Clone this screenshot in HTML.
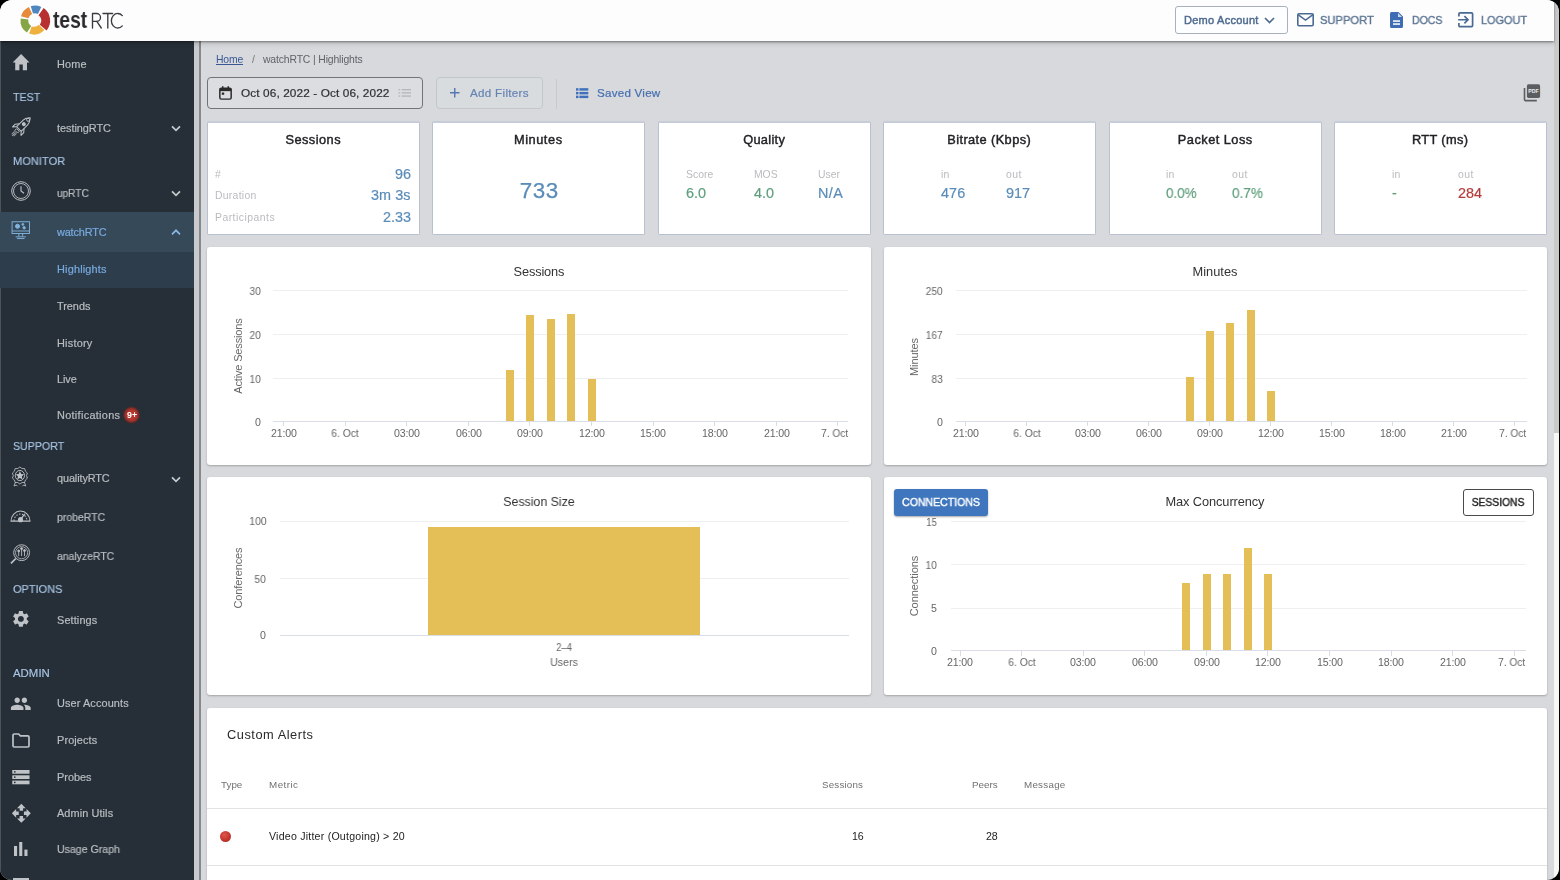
<!DOCTYPE html>
<html><head><meta charset="utf-8"><title>testRTC</title>
<style>
*{box-sizing:border-box;margin:0;padding:0}
html,body{width:1560px;height:880px;overflow:hidden;background:#000;font-family:"Liberation Sans",sans-serif}
#app{position:absolute;left:0;top:0;width:1559px;height:880px;border-radius:12px;overflow:hidden;background:#d7d9dc}
.t{position:absolute;white-space:nowrap;will-change:transform}
.abs{position:absolute}
#hdr{position:absolute;left:0;top:0;width:1554px;height:41px;background:#fdfdfe;box-shadow:0 1px 2px rgba(0,0,0,.42),0 3px 5px rgba(0,0,0,.13);z-index:5}
#side{position:absolute;left:0;top:41px;width:194px;height:839px;background:#262f37}
#sscroll{position:absolute;left:194px;top:41px;width:5px;height:839px;background:#c8cacd}
#sline{position:absolute;left:199px;top:41px;width:2px;height:839px;background:#85888c}
#vtrack{position:absolute;left:1553.5px;top:0;width:5.5px;height:880px;background:#f7f7f7}
#vthumb{position:absolute;left:1553.5px;top:3px;width:5.5px;height:430px;background:#c9c9c9}
.card{position:absolute;background:#fff;border-radius:3px;box-shadow:0 1px 2px rgba(0,0,0,.25)}
.kpi{position:absolute;background:#fff;border:1px solid #b7c1cf;border-top:2px solid #c6cdd8;border-radius:2px;top:121px;height:114px;width:213px}
svg{position:absolute;overflow:visible}
</style></head><body><div id="app">
<div id="hdr">
<svg style="left:18.8px;top:3.5px" width="32" height="32" viewBox="0 0 32 32">
<g fill="none" stroke-width="7.7">
<path d="M12.9 5.9 A10.55 10.55 0 0 1 20.6 6.5" stroke="#4f86c0"/>
<path d="M22.1 7.6 A11 11 0 0 1 24.2 23.6" stroke="#b8302f" stroke-width="8.8"/>
<path d="M22.6 23.4 A10.55 10.55 0 0 1 11.4 26" stroke="#eeb13d"/>
<path d="M10.1 25.3 A10.55 10.55 0 0 1 5.5 15" stroke="#86a544"/>
<path d="M5.7 13.3 A10.55 10.55 0 0 1 11.5 6.5" stroke="#e68a3b"/>
</g></svg>
<div class="t" style="left:53.2px;top:4.80px;line-height:30px;font-size:23.6px;color:#2a2a2e;font-weight:700;transform:scaleX(.815);transform-origin:left center;">test</div>
<svg style="left:91px;top:12px" width="33" height="18" viewBox="0 0 33 18" fill="none" stroke="#3b3b3f" stroke-width="1.35" stroke-linecap="round" stroke-linejoin="round">
<path d="M1.5 16 V1.5 H5.6 A3.9 3.9 0 0 1 5.6 9.3 H1.5 M5.8 9.3 L10.3 16"/>
<path d="M12 1.5 H21.6 M16.8 1.5 V16"/>
<path d="M31.3 3.6 A6.4 7.3 0 1 0 31.3 13.9"/>
</svg>
<div class="abs" style="left:1175px;top:5.700px;width:112.500px;height:28px;border:1px solid #aab1ba;border-radius:3px;background:#fdfeff"></div>
<div class="t" style="left:1183.7px;top:12.50px;line-height:15.4px;font-size:11px;color:#4e6b90;letter-spacing:0.259px;-webkit-text-stroke:0.45px #4e6b90;">Demo Account</div>
<svg style="left:1263.500px;top:17px" width="11" height="7" viewBox="0 0 11 7"><path d="M1 1 L5.500 5.500 L10 1" fill="none" stroke="#4e6b90" stroke-width="1.700"/></svg>
<svg style="left:1296.500px;top:13.200px" width="17" height="13.500" viewBox="0 0 17 13.500"><rect x=".8" y=".8" width="15.400" height="11.900" rx="1.200" fill="none" stroke="#4a6a94" stroke-width="1.600"/><path d="M1 1.600 L8.500 7 L16 1.600" fill="none" stroke="#4a6a94" stroke-width="1.500"/></svg>
<div class="t" style="left:1319.5px;top:12.30px;line-height:16.0px;font-size:11.4px;color:#5d7592;-webkit-text-stroke:0.4px #5d7592;transform:scaleX(0.9797);transform-origin:left center;">SUPPORT</div>
<svg style="left:1390px;top:11.500px" width="13" height="16" viewBox="0 0 13 16"><path d="M1.500 0 H8.500 L13 4.500 V14.500 A1.500 1.500 0 0 1 11.500 16 H1.500 A1.500 1.500 0 0 1 0 14.500 V1.500 A1.500 1.500 0 0 1 1.500 0 Z" fill="#3f6db3"/><path d="M8 1 V5 H12" fill="#c9d8ef"/><rect x="3" y="8.300" width="7" height="1.500" fill="#fff"/><rect x="3" y="11.300" width="7" height="1.500" fill="#fff"/></svg>
<div class="t" style="left:1411.7px;top:12.30px;line-height:16.0px;font-size:11.4px;color:#5d7592;-webkit-text-stroke:0.4px #5d7592;transform:scaleX(0.9240);transform-origin:left center;">DOCS</div>
<svg style="left:1458px;top:12px" width="15.500" height="15.500" viewBox="0 0 15.500 15.500"><path d="M.9 4.600 V2 A1.100 1.100 0 0 1 2 .9 H13.500 A1.100 1.100 0 0 1 14.600 2 V13.500 A1.100 1.100 0 0 1 13.500 14.600 H2 A1.100 1.100 0 0 1 .9 13.500 V10.900" fill="none" stroke="#4a6a94" stroke-width="1.700"/><path d="M.2 7.750 H9.600 M6.400 4.200 L10 7.750 L6.400 11.300" fill="none" stroke="#4a6a94" stroke-width="1.700"/></svg>
<div class="t" style="left:1480.5px;top:12.30px;line-height:16.0px;font-size:11.4px;color:#5d7592;-webkit-text-stroke:0.4px #5d7592;transform:scaleX(0.9548);transform-origin:left center;">LOGOUT</div>
</div>
<div id="side"></div><div id="sscroll"></div><div id="sline"></div><div class="abs" style="left:0;top:41px;width:1px;height:839px;background:#4b535b"></div>
<div class="abs" style="left:0;top:212px;width:194px;height:40px;background:#354959"></div>
<div class="abs" style="left:0;top:252px;width:194px;height:35.500px;background:#2d3d4c"></div>
<div class="t" style="left:13.4px;top:88.50px;line-height:16.0px;font-size:11.4px;color:#a9c6e6;-webkit-text-stroke:0.15px #a9c6e6;transform:scaleX(0.9348);transform-origin:left center;">TEST</div>
<div class="t" style="left:13.4px;top:152.60px;line-height:16.0px;font-size:11.4px;color:#a9c6e6;-webkit-text-stroke:0.15px #a9c6e6;transform:scaleX(0.9751);transform-origin:left center;">MONITOR</div>
<div class="t" style="left:13.4px;top:437.60px;line-height:16.0px;font-size:11.4px;color:#a9c6e6;-webkit-text-stroke:0.15px #a9c6e6;transform:scaleX(0.9319);transform-origin:left center;">SUPPORT</div>
<div class="t" style="left:13.4px;top:580.50px;line-height:16.0px;font-size:11.4px;color:#a9c6e6;-webkit-text-stroke:0.15px #a9c6e6;transform:scaleX(0.9624);transform-origin:left center;">OPTIONS</div>
<div class="t" style="left:13.4px;top:664.60px;line-height:16.0px;font-size:11.4px;color:#a9c6e6;letter-spacing:0.024px;-webkit-text-stroke:0.15px #a9c6e6;">ADMIN</div>
<div class="t" style="left:56.9px;top:57.25px;line-height:15.3px;font-size:10.9px;color:#b9bdc1;letter-spacing:0.179px;-webkit-text-stroke:0.2px #b9bdc1;">Home</div>
<div class="t" style="left:56.9px;top:121.35px;line-height:15.3px;font-size:10.9px;color:#b9bdc1;letter-spacing:-0.042px;-webkit-text-stroke:0.2px #b9bdc1;">testingRTC</div>
<div class="t" style="left:56.9px;top:185.65px;line-height:15.3px;font-size:10.9px;color:#b9bdc1;-webkit-text-stroke:0.2px #b9bdc1;transform:scaleX(0.9269);transform-origin:left center;">upRTC</div>
<div class="t" style="left:56.9px;top:224.75px;line-height:15.3px;font-size:10.9px;color:#78aade;letter-spacing:-0.163px;-webkit-text-stroke:0.2px #78aade;">watchRTC</div>
<div class="t" style="left:56.9px;top:262.25px;line-height:15.3px;font-size:10.9px;color:#78aade;letter-spacing:0.186px;-webkit-text-stroke:0.2px #78aade;">Highlights</div>
<div class="t" style="left:56.9px;top:298.65px;line-height:15.3px;font-size:10.9px;color:#b9bdc1;letter-spacing:-0.020px;-webkit-text-stroke:0.2px #b9bdc1;">Trends</div>
<div class="t" style="left:56.9px;top:335.65px;line-height:15.3px;font-size:10.9px;color:#b9bdc1;letter-spacing:0.218px;-webkit-text-stroke:0.2px #b9bdc1;">History</div>
<div class="t" style="left:56.9px;top:371.85px;line-height:15.3px;font-size:10.9px;color:#b9bdc1;letter-spacing:-0.061px;-webkit-text-stroke:0.2px #b9bdc1;">Live</div>
<div class="t" style="left:56.9px;top:408.15px;line-height:15.3px;font-size:10.9px;color:#b9bdc1;letter-spacing:0.306px;-webkit-text-stroke:0.2px #b9bdc1;">Notifications</div>
<div class="t" style="left:56.9px;top:471.35px;line-height:15.3px;font-size:10.9px;color:#b9bdc1;letter-spacing:-0.108px;-webkit-text-stroke:0.2px #b9bdc1;">qualityRTC</div>
<div class="t" style="left:56.9px;top:510.45px;line-height:15.3px;font-size:10.9px;color:#b9bdc1;-webkit-text-stroke:0.2px #b9bdc1;transform:scaleX(0.9615);transform-origin:left center;">probeRTC</div>
<div class="t" style="left:56.9px;top:549.35px;line-height:15.3px;font-size:10.9px;color:#b9bdc1;-webkit-text-stroke:0.2px #b9bdc1;transform:scaleX(0.9579);transform-origin:left center;">analyzeRTC</div>
<div class="t" style="left:56.9px;top:613.45px;line-height:15.3px;font-size:10.9px;color:#b9bdc1;letter-spacing:0.120px;-webkit-text-stroke:0.2px #b9bdc1;">Settings</div>
<div class="t" style="left:56.9px;top:696.35px;line-height:15.3px;font-size:10.9px;color:#b9bdc1;letter-spacing:0.115px;-webkit-text-stroke:0.2px #b9bdc1;">User Accounts</div>
<div class="t" style="left:56.9px;top:733.15px;line-height:15.3px;font-size:10.9px;color:#b9bdc1;letter-spacing:0.122px;-webkit-text-stroke:0.2px #b9bdc1;">Projects</div>
<div class="t" style="left:56.9px;top:769.55px;line-height:15.3px;font-size:10.9px;color:#b9bdc1;letter-spacing:-0.003px;-webkit-text-stroke:0.2px #b9bdc1;">Probes</div>
<div class="t" style="left:56.9px;top:805.95px;line-height:15.3px;font-size:10.9px;color:#b9bdc1;letter-spacing:0.102px;-webkit-text-stroke:0.2px #b9bdc1;">Admin Utils</div>
<div class="t" style="left:56.9px;top:842.25px;line-height:15.3px;font-size:10.9px;color:#b9bdc1;-webkit-text-stroke:0.2px #b9bdc1;transform:scaleX(0.9713);transform-origin:left center;">Usage Graph</div>
<svg style="left:171px;top:125.3px" width="10" height="6.600" viewBox="0 0 10 6.600"><path d="M1 1.300 L5 5.300 L9 1.300" fill="none" stroke="#c6cacd" stroke-width="1.700"/></svg>
<svg style="left:171px;top:189.6px" width="10" height="6.600" viewBox="0 0 10 6.600"><path d="M1 1.300 L5 5.300 L9 1.300" fill="none" stroke="#c6cacd" stroke-width="1.700"/></svg>
<svg style="left:171px;top:228.5px" width="10" height="6.600" viewBox="0 0 10 6.600"><path d="M1 5.300 L5 1.300 L9 5.300" fill="none" stroke="#8ab8e2" stroke-width="1.700"/></svg>
<svg style="left:171px;top:475.5px" width="10" height="6.600" viewBox="0 0 10 6.600"><path d="M1 1.300 L5 5.300 L9 1.300" fill="none" stroke="#c6cacd" stroke-width="1.700"/></svg>
<div class="abs" style="left:122.200px;top:405.500px;width:18.800px;height:18.800px;border-radius:10px;background:radial-gradient(circle closest-side,#b8372f 0%,#b3362f 50%,#93302c 72%,rgba(90,38,38,.85) 88%,rgba(60,40,45,0) 100%)"></div>
<div class="t" style="left:-68.30px;width:400px;text-align:center;top:408.75px;line-height:12.3px;font-size:8.8px;color:#fff;font-weight:700;">9+</div>
<svg style="left:10.700px;top:50.700px" width="20.200" height="23.200" viewBox="0 0 24 24" preserveAspectRatio="none"><path d="M10 20v-6h4v6h5v-8h3L12 3 2 12h3v8z" fill="#bfc2c6"/></svg>
<svg style="left:0px;top:100px" width="45" height="50" viewBox="0 100 45 50" fill="none" stroke="#bfc2c6" stroke-width="1.05" stroke-linejoin="round">
<g transform="translate(21.3 126.6) rotate(45)">
<path d="M-3.3 3.4 V-6 C-3.3 -8.8 -1.6 -10.6 0 -12.6 C1.6 -10.6 3.3 -8.8 3.3 -6 V3.4 Z"/>
<circle cx="0" cy="-9.6" r="1.5" stroke-width=".9"/>
<circle cx="0" cy="-3.6" r="2" fill="#bfc2c6" stroke="none"/>
<path d="M-3.3 -.6 L-6 2.6 V6.4 L-3.3 3.6 M3.3 -.6 L6 2.6 V6.400 L3.3 3.600"/>
<path d="M-1.900 4.800 H1.900 V7.200 H-1.900 Z" stroke-width=".9"/>
<path d="M-1.400 8.200 V12.200 M0 8.200 V13 M1.400 8.200 V12.200" stroke-width="1" opacity=".75"/>
</g></svg>
<svg style="left:10.700px;top:180.500px" width="20" height="20" viewBox="0 0 20 20" fill="none" stroke="#bfc2c6">
<circle cx="10" cy="10" r="9.300" stroke-width="1"/><circle cx="10" cy="10" r="7.500" stroke-width=".9"/>
<path d="M10 5.200 V10 L13 12.200" stroke-width="1.100"/></svg>
<svg style="left:10.700px;top:221.300px" width="19.500" height="18.500" viewBox="0 0 20 19.600" fill="none" stroke="#82b3dd" stroke-width="1">
<rect x=".8" y=".8" width="18.400" height="12.400" /><path d="M.8 10.600 H19.200 M8 13.200 V16.400 M12 13.200 V16.400 M4.600 16.800 H15.400 M6 18.600 H14" />
<circle cx="6.600" cy="5.600" r="2.200" fill="#82b3dd"/><circle cx="12.200" cy="3.600" r="1" fill="#82b3dd"/><circle cx="13.600" cy="7.200" r="1.300" fill="#82b3dd"/></svg>
<svg style="left:11px;top:465.800px" width="17.800" height="20.600" viewBox="0 0 20 21" preserveAspectRatio="none" fill="none" stroke="#bfc2c6" stroke-width="1">
<path d="M10 1 L12.400 2.600 L15.300 2.600 L16.200 5.300 L18.400 7.200 L17.400 9.800 L18.400 12.400 L16.200 14.200 L15.300 16.800 L12.400 16.800 L10 18.400 L7.600 16.800 L4.700 16.800 L3.800 14.200 L1.600 12.400 L2.600 9.800 L1.600 7.200 L3.800 5.300 L4.700 2.600 L7.600 2.600 Z" stroke-width=".9"/>
<circle cx="10" cy="9.700" r="5.200"/><path transform="translate(10 9.700) scale(1.350) translate(-10 -9.700)" d="M10 6.300 L11 8.600 L13.400 8.800 L11.600 10.400 L12.200 12.800 L10 11.500 L7.800 12.800 L8.400 10.400 L6.600 8.800 L9 8.600 Z" fill="#bfc2c6" stroke="none"/>
<path d="M5 16.500 L3.400 20.400 L6 19.400 L7.200 20.600 M15 16.500 L16.600 20.400 L14 19.400 L12.800 20.600" stroke-width=".9"/></svg>
<svg style="left:10.200px;top:507.600px" width="21" height="14.800" viewBox="0 0 21 14" preserveAspectRatio="none" fill="none" stroke="#bfc2c6" stroke-width="1">
<path d="M1 12.400 A9.500 9.500 0 0 1 20 12.400 Z"/><path d="M4 12.200 A6.500 6.500 0 0 1 17 12.200" stroke-dasharray="1.400 1.500"/>
<circle cx="10.500" cy="11" r="2" fill="#bfc2c6"/><path d="M10.500 11 L14.800 5.600" stroke-width="1.300"/></svg>
<svg style="left:10.100px;top:544.300px" width="20.300" height="20.300" viewBox="0 0 21 21" fill="none" stroke="#bfc2c6" stroke-width="1">
<circle cx="12" cy="9" r="8.200"/><circle cx="12" cy="9" r="6.300" stroke-width=".8"/>
<path d="M6 15 L1 20" stroke-width="1.800"/><path d="M9 12.500 V8 M12 12.500 V5.500 M15 12.500 V7.500" stroke-width=".9"/>
<circle cx="9" cy="7.200" r="1" fill="#bfc2c6"/><circle cx="12" cy="4.800" r="1" fill="#bfc2c6"/><circle cx="15" cy="6.800" r="1" fill="#bfc2c6"/></svg>
<svg style="left:10.600px;top:608.700px" width="19.800" height="19.800" viewBox="0 0 24 24"><path fill="#bfc2c6" d="M19.140 12.940c.040-.3.060-.610.060-.940 0-.320-.020-.640-.070-.940l2.030-1.580a.490.490 0 0 0 .120-.610l-1.920-3.320a.488.488 0 0 0-.590-.220l-2.390.960c-.5-.380-1.030-.7-1.620-.940l-.360-2.540a.484.484 0 0 0-.480-.410h-3.840c-.240 0-.430.170-.470.410l-.360 2.540c-.590.240-1.130.570-1.620.940l-2.390-.960c-.220-.080-.470 0-.590.220L2.740 8.870c-.120.210-.080.470.120.610l2.030 1.580c-.050.3-.090.630-.090.940s.020.640.070.940l-2.030 1.580a.490.490 0 0 0-.120.610l1.920 3.320c.120.220.370.290.590.220l2.390-.960c.5.380 1.030.7 1.620.940l.360 2.540c.050.240.240.410.480.410h3.840c.240 0 .440-.170.470-.410l.360-2.540c.590-.240 1.130-.560 1.620-.940l2.390.960c.220.080.470 0 .590-.220l1.920-3.320c.120-.220.070-.470-.120-.610l-2.010-1.580zM12 15.600c-1.980 0-3.600-1.620-3.600-3.600s1.620-3.600 3.600-3.600 3.600 1.620 3.600 3.600-1.620 3.600-3.600 3.600z"/></svg>
<svg style="left:10px;top:692.500px" width="21.600" height="21.600" viewBox="0 0 24 24"><path fill="#bfc2c6" d="M16 11c1.660 0 2.990-1.340 2.990-3S17.660 5 16 5c-1.660 0-3 1.340-3 3s1.340 3 3 3zm-8 0c1.660 0 2.990-1.340 2.990-3S9.660 5 8 5C6.340 5 5 6.340 5 8s1.340 3 3 3zm0 2c-2.330 0-7 1.170-7 3.500V19h14v-2.500c0-2.330-4.670-3.500-7-3.500zm8 0c-.290 0-.620.020-.970.050 1.160.84 1.970 1.970 1.970 3.450V19h6v-2.500c0-2.330-4.670-3.500-7-3.500z"/></svg>
<svg style="left:11.800px;top:733px" width="18" height="15" viewBox="0 0 18 15"><path d="M1 2.200 A1.200 1.200 0 0 1 2.200 1 H6.600 L8.400 2.800 H15.800 A1.200 1.200 0 0 1 17 4 V12.800 A1.200 1.200 0 0 1 15.800 14 H2.200 A1.200 1.200 0 0 1 1 12.800 Z" fill="none" stroke="#bfc2c6" stroke-width="1.700"/></svg>
<svg style="left:11.800px;top:769.600px" width="17.800" height="14.400" viewBox="0 0 18 15" fill="#bfc2c6"><rect x="0" y="0" width="18" height="3.900"/><rect x="0" y="5.500" width="18" height="3.900"/><rect x="0" y="11" width="18" height="3.900"/><rect x="1.800" y="1.200" width="1.600" height="1.500" fill="#262f37"/><rect x="1.800" y="6.700" width="1.600" height="1.500" fill="#262f37"/><rect x="1.800" y="12.200" width="1.600" height="1.500" fill="#262f37"/></svg>
<svg style="left:10.500px;top:802.500px" width="20.700" height="20.700" viewBox="0 0 24 24"><path fill="#bfc2c6" d="M10 9h4V6h3l-5-5-5 5h3v3zm-1 1H6V7l-5 5 5 5v-3h3v-4zm14 2l-5-5v3h-3v4h3v3l5-5zm-9 3h-4v3H7l5 5 5-5h-3v-3z"/></svg>
<svg style="left:13.800px;top:842.300px" width="13.500" height="14" viewBox="0 0 13.500 14" fill="#bfc2c6"><rect x="0" y="4" width="3.100" height="10"/><rect x="5.200" y="0" width="3.100" height="14"/><rect x="10.400" y="7.600" width="3.100" height="6.400"/></svg>
<div class="abs" style="left:12.500px;top:877.700px;width:16.500px;height:3px;background:#bfc2c6"></div>
<div class="t" style="left:215.5px;top:52.60px;line-height:14.6px;font-size:10.4px;color:#3a5795;letter-spacing:-0.173px;"><span style="text-decoration:underline">Home</span></div>
<div class="t" style="left:252px;top:52.60px;line-height:14.6px;font-size:10.4px;color:#777;">/</div>
<div class="t" style="left:263.1px;top:52.60px;line-height:14.6px;font-size:10.4px;color:#5f6368;letter-spacing:-0.136px;">watchRTC | Highlights</div>
<div class="abs" style="left:207px;top:77px;width:216px;height:32px;border:1px solid #707377;border-radius:4px;background:#dbdde0"></div>
<svg style="left:218.800px;top:85.800px" width="13" height="14" viewBox="0 0 14 15"><rect x=".9" y="2.300" width="12.200" height="11.800" rx="1.500" fill="none" stroke="#2b2b2b" stroke-width="1.600"/><rect x=".9" y="2.300" width="12.200" height="3.200" fill="#2b2b2b"/><rect x="3.200" y=".2" width="1.600" height="3" fill="#2b2b2b"/><rect x="9.200" y=".2" width="1.600" height="3" fill="#2b2b2b"/><rect x="3" y="7" width="2.600" height="2.400" fill="#2b2b2b"/></svg>
<div class="t" style="left:240.7px;top:85.05px;line-height:16.5px;font-size:11.8px;color:#2e3033;letter-spacing:0.108px;-webkit-text-stroke:0.2px #2e3033;">Oct 06, 2022 - Oct 06, 2022</div>
<svg style="left:398px;top:88.800px" width="13.600" height="8" viewBox="0 0 14 9" fill="#b3b6ba"><rect x="0" y="0" width="1.800" height="1.500"/><rect x="3.500" y="0" width="10.500" height="1.500"/><rect x="0" y="3.600" width="1.800" height="1.500"/><rect x="3.500" y="3.600" width="10.500" height="1.500"/><rect x="0" y="7.200" width="1.800" height="1.500"/><rect x="3.500" y="7.200" width="10.500" height="1.500"/></svg>
<div class="abs" style="left:436px;top:77px;width:106.500px;height:32px;border:1px solid #c3c7cc;border-radius:4px;background:#d9dcdf"></div>
<svg style="left:450px;top:88.300px" width="9.500" height="9.500" viewBox="0 0 10 10"><path d="M5 0 V10 M0 5 H10" stroke="#5578b3" stroke-width="1.500"/></svg>
<div class="t" style="left:469.9px;top:85.20px;line-height:16.2px;font-size:11.6px;color:#6583b2;letter-spacing:0.318px;-webkit-text-stroke:0.2px #6583b2;">Add Filters</div>
<div class="abs" style="left:556px;top:78.500px;width:1px;height:30.500px;background:#c6c9cd"></div>
<svg style="left:575.700px;top:87.900px" width="12.300" height="10.300" viewBox="0 0 13 10.500" fill="#3f70bb"><rect x="0" y="0" width="2.600" height="2.600"/><rect x="3.600" y="0" width="9.400" height="2.600"/><rect x="0" y="3.950" width="2.600" height="2.600"/><rect x="3.600" y="3.950" width="9.400" height="2.600"/><rect x="0" y="7.900" width="2.600" height="2.600"/><rect x="3.600" y="7.900" width="9.400" height="2.600"/></svg>
<div class="t" style="left:596.8px;top:85.20px;line-height:16.2px;font-size:11.6px;color:#456fb0;letter-spacing:0.243px;-webkit-text-stroke:0.2px #456fb0;">Saved View</div>
<svg style="left:1523px;top:84px" width="17.500" height="18" viewBox="0 0 17.500 18"><rect x="3.900" y=".3" width="13.200" height="13.600" rx="1.600" fill="#5b5d61"/><path d="M1.500 4.100 V15.400 A1.200 1.200 0 0 0 2.700 16.600 H13.800" fill="none" stroke="#5b5d61" stroke-width="1.600"/><text x="10.500" y="9" font-size="5.200" font-weight="700" fill="#eceef0" text-anchor="middle" font-family="Liberation Sans, sans-serif">PDF</text></svg>
<div class="kpi" style="left:207px"></div>
<div class="kpi" style="left:432px"></div>
<div class="kpi" style="left:658px"></div>
<div class="kpi" style="left:883px"></div>
<div class="kpi" style="left:1109px"></div>
<div class="kpi" style="left:1334px"></div>
<div class="t" style="left:113.10px;width:400px;text-align:center;top:130.55px;line-height:17.9px;font-size:12.8px;color:#202226;letter-spacing:0.466px;-webkit-text-stroke:0.42px #202226;text-indent:0.466px;">Sessions</div>
<div class="t" style="left:338.10px;width:400px;text-align:center;top:130.55px;line-height:17.9px;font-size:12.8px;color:#202226;letter-spacing:0.548px;-webkit-text-stroke:0.42px #202226;text-indent:0.548px;">Minutes</div>
<div class="t" style="left:564.10px;width:400px;text-align:center;top:130.55px;line-height:17.9px;font-size:12.8px;color:#202226;letter-spacing:0.295px;-webkit-text-stroke:0.42px #202226;text-indent:0.295px;">Quality</div>
<div class="t" style="left:789.10px;width:400px;text-align:center;top:130.55px;line-height:17.9px;font-size:12.8px;color:#202226;letter-spacing:0.405px;-webkit-text-stroke:0.42px #202226;text-indent:0.405px;">Bitrate (Kbps)</div>
<div class="t" style="left:1015.10px;width:400px;text-align:center;top:130.55px;line-height:17.9px;font-size:12.8px;color:#202226;letter-spacing:0.458px;-webkit-text-stroke:0.42px #202226;text-indent:0.458px;">Packet Loss</div>
<div class="t" style="left:1240.10px;width:400px;text-align:center;top:130.55px;line-height:17.9px;font-size:12.8px;color:#202226;letter-spacing:0.348px;-webkit-text-stroke:0.42px #202226;text-indent:0.348px;">RTT (ms)</div>
<div class="t" style="left:214.7px;top:168.00px;line-height:14.6px;font-size:10.4px;color:#b9bbbe;">#</div>
<div class="t" style="right:1148.10px;top:164.20px;line-height:20.2px;font-size:14.4px;color:#5b8cb8;letter-spacing:-0.116px;-webkit-text-stroke:0.2px #5b8cb8;margin-right:0.116px;">96</div>
<div class="t" style="left:214.7px;top:189.00px;line-height:14.6px;font-size:10.4px;color:#b9bbbe;letter-spacing:0.288px;">Duration</div>
<div class="t" style="right:1148.10px;top:185.20px;line-height:20.2px;font-size:14.4px;color:#5b8cb8;letter-spacing:0.074px;-webkit-text-stroke:0.2px #5b8cb8;margin-right:-0.074px;">3m 3s</div>
<div class="t" style="left:214.7px;top:210.60px;line-height:14.6px;font-size:10.4px;color:#b9bbbe;letter-spacing:0.482px;">Participants</div>
<div class="t" style="right:1148.10px;top:206.80px;line-height:20.2px;font-size:14.4px;color:#5b8cb8;letter-spacing:-0.005px;-webkit-text-stroke:0.2px #5b8cb8;margin-right:0.005px;">2.33</div>
<div class="t" style="left:338.70px;width:400px;text-align:center;top:174.60px;line-height:31.4px;font-size:22.4px;color:#5b8cb8;letter-spacing:0.470px;-webkit-text-stroke:0.25px #5b8cb8;text-indent:0.470px;">733</div>
<div class="t" style="left:686px;top:167.60px;line-height:14.6px;font-size:10.4px;color:#b9bbbe;letter-spacing:0.061px;">Score</div>
<div class="t" style="left:686px;top:183.40px;line-height:20.2px;font-size:14.4px;color:#5f9f7c;-webkit-text-stroke:0.2px #5f9f7c;transform:scaleX(1.0031);transform-origin:left center;">6.0</div>
<div class="t" style="left:753.8px;top:167.60px;line-height:14.6px;font-size:10.4px;color:#b9bbbe;letter-spacing:-0.036px;">MOS</div>
<div class="t" style="left:753.8px;top:183.40px;line-height:20.2px;font-size:14.4px;color:#5f9f7c;letter-spacing:-0.008px;-webkit-text-stroke:0.2px #5f9f7c;">4.0</div>
<div class="t" style="left:817.5px;top:167.60px;line-height:14.6px;font-size:10.4px;color:#b9bbbe;letter-spacing:0.049px;">User</div>
<div class="t" style="left:817.5px;top:183.40px;line-height:20.2px;font-size:14.4px;color:#5b8cb8;letter-spacing:0.400px;-webkit-text-stroke:0.2px #5b8cb8;">N/A</div>
<div class="t" style="left:940.6px;top:167.60px;line-height:14.6px;font-size:10.4px;color:#b9bbbe;letter-spacing:0.206px;">in</div>
<div class="t" style="left:940.6px;top:183.40px;line-height:20.2px;font-size:14.4px;color:#5b8cb8;letter-spacing:0.092px;-webkit-text-stroke:0.2px #5b8cb8;">476</div>
<div class="t" style="left:1006.3px;top:167.60px;line-height:14.6px;font-size:10.4px;color:#b9bbbe;letter-spacing:0.500px;">out</div>
<div class="t" style="left:1006.3px;top:183.40px;line-height:20.2px;font-size:14.4px;color:#5b8cb8;-webkit-text-stroke:0.2px #5b8cb8;transform:scaleX(1.0068);transform-origin:left center;">917</div>
<div class="t" style="left:1166.4px;top:167.60px;line-height:14.6px;font-size:10.4px;color:#b9bbbe;letter-spacing:0.206px;">in</div>
<div class="t" style="left:1166.4px;top:183.40px;line-height:20.2px;font-size:14.4px;color:#5f9f7c;-webkit-text-stroke:0.2px #5f9f7c;transform:scaleX(0.9306);transform-origin:left center;">0.0%</div>
<div class="t" style="left:1231.9px;top:167.60px;line-height:14.6px;font-size:10.4px;color:#b9bbbe;letter-spacing:0.500px;">out</div>
<div class="t" style="left:1231.9px;top:183.40px;line-height:20.2px;font-size:14.4px;color:#5f9f7c;-webkit-text-stroke:0.2px #5f9f7c;transform:scaleX(0.9430);transform-origin:left center;">0.7%</div>
<div class="t" style="left:1392px;top:167.60px;line-height:14.6px;font-size:10.4px;color:#b9bbbe;letter-spacing:0.206px;">in</div>
<div class="t" style="left:1392px;top:183.40px;line-height:20.2px;font-size:14.4px;color:#5f9f7c;-webkit-text-stroke:0.2px #5f9f7c;">-</div>
<div class="t" style="left:1457.5px;top:167.60px;line-height:14.6px;font-size:10.4px;color:#b9bbbe;letter-spacing:0.500px;">out</div>
<div class="t" style="left:1457.5px;top:183.40px;line-height:20.2px;font-size:14.4px;color:#b23b3b;letter-spacing:-0.058px;-webkit-text-stroke:0.2px #b23b3b;">284</div>
<div class="card" style="left:207px;top:247px;width:663.5px;height:217.5px"></div>
<div class="card" style="left:883.7px;top:247px;width:663.3px;height:217.5px"></div>
<div class="card" style="left:207px;top:477px;width:663.5px;height:217.5px"></div>
<div class="card" style="left:883.7px;top:477px;width:663.3px;height:217.5px"></div>
<div class="card" style="left:207px;top:707.5px;width:1340px;height:200px"></div>
<div class="t" style="left:338.50px;width:400px;text-align:center;top:263.05px;line-height:17.9px;font-size:12.8px;color:#333;letter-spacing:-0.134px;text-indent:-0.134px;">Sessions</div>
<div class="abs" style="left:272.7px;top:290.20px;width:575.8px;height:1px;background:#efefef"></div>
<div class="abs" style="left:272.7px;top:333.90px;width:575.8px;height:1px;background:#efefef"></div>
<div class="abs" style="left:272.7px;top:377.60px;width:575.8px;height:1px;background:#efefef"></div>
<div class="abs" style="left:272.7px;top:420.90px;width:575.8px;height:1px;background:#d9dde6"></div>
<div class="t" style="right:1298.00px;top:284.10px;line-height:14.8px;font-size:10.6px;color:#666;transform:scaleX(0.9584);transform-origin:right center;">30</div>
<div class="t" style="right:1298.00px;top:327.80px;line-height:14.8px;font-size:10.6px;color:#666;transform:scaleX(0.9584);transform-origin:right center;">20</div>
<div class="t" style="right:1298.00px;top:371.50px;line-height:14.8px;font-size:10.6px;color:#666;transform:scaleX(0.9584);transform-origin:right center;">10</div>
<div class="t" style="right:1298.00px;top:414.80px;line-height:14.8px;font-size:10.6px;color:#666;">0</div>
<div class="t" style="left:37.70px;width:400px;text-align:center;top:349.00px;line-height:14px;font-size:11px;color:#666;letter-spacing:-0.154px;transform:rotate(-90deg);text-indent:-0.154px;">Active Sessions</div>
<div class="abs" style="left:282.90px;top:421.40px;width:1px;height:5.0px;background:#d9dde6"></div>
<div class="t" style="left:83.70px;width:400px;text-align:center;top:425.70px;line-height:14.8px;font-size:10.6px;color:#666;letter-spacing:-0.129px;text-indent:-0.129px;">21:00</div>
<div class="abs" style="left:344.50px;top:421.40px;width:1px;height:5.0px;background:#d9dde6"></div>
<div class="t" style="left:145.30px;width:400px;text-align:center;top:425.70px;line-height:14.8px;font-size:10.6px;color:#666;transform:scaleX(0.9626);transform-origin:center center;">6. Oct</div>
<div class="abs" style="left:406.10px;top:421.40px;width:1px;height:5.0px;background:#d9dde6"></div>
<div class="t" style="left:206.90px;width:400px;text-align:center;top:425.70px;line-height:14.8px;font-size:10.6px;color:#666;letter-spacing:-0.129px;text-indent:-0.129px;">03:00</div>
<div class="abs" style="left:467.70px;top:421.40px;width:1px;height:5.0px;background:#d9dde6"></div>
<div class="t" style="left:268.50px;width:400px;text-align:center;top:425.70px;line-height:14.8px;font-size:10.6px;color:#666;letter-spacing:-0.129px;text-indent:-0.129px;">06:00</div>
<div class="abs" style="left:529.30px;top:421.40px;width:1px;height:5.0px;background:#d9dde6"></div>
<div class="t" style="left:330.10px;width:400px;text-align:center;top:425.70px;line-height:14.8px;font-size:10.6px;color:#666;letter-spacing:-0.129px;text-indent:-0.129px;">09:00</div>
<div class="abs" style="left:590.90px;top:421.40px;width:1px;height:5.0px;background:#d9dde6"></div>
<div class="t" style="left:391.70px;width:400px;text-align:center;top:425.70px;line-height:14.8px;font-size:10.6px;color:#666;letter-spacing:-0.129px;text-indent:-0.129px;">12:00</div>
<div class="abs" style="left:652.50px;top:421.40px;width:1px;height:5.0px;background:#d9dde6"></div>
<div class="t" style="left:453.30px;width:400px;text-align:center;top:425.70px;line-height:14.8px;font-size:10.6px;color:#666;letter-spacing:-0.129px;text-indent:-0.129px;">15:00</div>
<div class="abs" style="left:714.10px;top:421.40px;width:1px;height:5.0px;background:#d9dde6"></div>
<div class="t" style="left:514.90px;width:400px;text-align:center;top:425.70px;line-height:14.8px;font-size:10.6px;color:#666;letter-spacing:-0.129px;text-indent:-0.129px;">18:00</div>
<div class="abs" style="left:775.70px;top:421.40px;width:1px;height:5.0px;background:#d9dde6"></div>
<div class="t" style="left:576.50px;width:400px;text-align:center;top:425.70px;line-height:14.8px;font-size:10.6px;color:#666;letter-spacing:-0.129px;text-indent:-0.129px;">21:00</div>
<div class="abs" style="left:837.30px;top:421.40px;width:1px;height:5.0px;background:#d9dde6"></div>
<div class="t" style="right:711.20px;top:425.70px;line-height:14.8px;font-size:10.6px;color:#666;transform:scaleX(0.9626);transform-origin:right center;">7. Oct</div>
<div class="abs" style="left:505.77px;top:369.80px;width:8px;height:51.30px;background:#e4bf58"></div>
<div class="abs" style="left:526.30px;top:314.60px;width:8px;height:106.50px;background:#e4bf58"></div>
<div class="abs" style="left:546.83px;top:318.60px;width:8px;height:102.50px;background:#e4bf58"></div>
<div class="abs" style="left:567.37px;top:314.10px;width:8px;height:107.00px;background:#e4bf58"></div>
<div class="abs" style="left:587.90px;top:378.90px;width:8px;height:42.20px;background:#e4bf58"></div>
<div class="t" style="left:1015.00px;width:400px;text-align:center;top:263.05px;line-height:17.9px;font-size:12.8px;color:#333;letter-spacing:0.031px;text-indent:0.031px;">Minutes</div>
<div class="abs" style="left:956px;top:290.20px;width:570.8px;height:1px;background:#efefef"></div>
<div class="abs" style="left:956px;top:333.90px;width:570.8px;height:1px;background:#efefef"></div>
<div class="abs" style="left:956px;top:377.60px;width:570.8px;height:1px;background:#efefef"></div>
<div class="abs" style="left:956px;top:420.90px;width:570.8px;height:1px;background:#d9dde6"></div>
<div class="t" style="right:616.30px;top:284.10px;line-height:14.8px;font-size:10.6px;color:#666;transform:scaleX(0.9616);transform-origin:right center;">250</div>
<div class="t" style="right:616.30px;top:327.80px;line-height:14.8px;font-size:10.6px;color:#666;transform:scaleX(0.9616);transform-origin:right center;">167</div>
<div class="t" style="right:616.30px;top:371.50px;line-height:14.8px;font-size:10.6px;color:#666;transform:scaleX(0.9584);transform-origin:right center;">83</div>
<div class="t" style="right:616.30px;top:414.80px;line-height:14.8px;font-size:10.6px;color:#666;">0</div>
<div class="t" style="left:714.00px;width:400px;text-align:center;top:349.50px;line-height:14px;font-size:11px;color:#666;letter-spacing:-0.055px;transform:rotate(-90deg);text-indent:-0.055px;">Minutes</div>
<div class="abs" style="left:965.40px;top:421.40px;width:1px;height:5.0px;background:#d9dde6"></div>
<div class="t" style="left:766.20px;width:400px;text-align:center;top:425.70px;line-height:14.8px;font-size:10.6px;color:#666;letter-spacing:-0.129px;text-indent:-0.129px;">21:00</div>
<div class="abs" style="left:1026.33px;top:421.40px;width:1px;height:5.0px;background:#d9dde6"></div>
<div class="t" style="left:827.13px;width:400px;text-align:center;top:425.70px;line-height:14.8px;font-size:10.6px;color:#666;transform:scaleX(0.9626);transform-origin:center center;">6. Oct</div>
<div class="abs" style="left:1087.26px;top:421.40px;width:1px;height:5.0px;background:#d9dde6"></div>
<div class="t" style="left:888.06px;width:400px;text-align:center;top:425.70px;line-height:14.8px;font-size:10.6px;color:#666;letter-spacing:-0.129px;text-indent:-0.129px;">03:00</div>
<div class="abs" style="left:1148.19px;top:421.40px;width:1px;height:5.0px;background:#d9dde6"></div>
<div class="t" style="left:948.99px;width:400px;text-align:center;top:425.70px;line-height:14.8px;font-size:10.6px;color:#666;letter-spacing:-0.129px;text-indent:-0.129px;">06:00</div>
<div class="abs" style="left:1209.12px;top:421.40px;width:1px;height:5.0px;background:#d9dde6"></div>
<div class="t" style="left:1009.92px;width:400px;text-align:center;top:425.70px;line-height:14.8px;font-size:10.6px;color:#666;letter-spacing:-0.129px;text-indent:-0.129px;">09:00</div>
<div class="abs" style="left:1270.05px;top:421.40px;width:1px;height:5.0px;background:#d9dde6"></div>
<div class="t" style="left:1070.85px;width:400px;text-align:center;top:425.70px;line-height:14.8px;font-size:10.6px;color:#666;letter-spacing:-0.129px;text-indent:-0.129px;">12:00</div>
<div class="abs" style="left:1330.98px;top:421.40px;width:1px;height:5.0px;background:#d9dde6"></div>
<div class="t" style="left:1131.78px;width:400px;text-align:center;top:425.70px;line-height:14.8px;font-size:10.6px;color:#666;letter-spacing:-0.129px;text-indent:-0.129px;">15:00</div>
<div class="abs" style="left:1391.91px;top:421.40px;width:1px;height:5.0px;background:#d9dde6"></div>
<div class="t" style="left:1192.71px;width:400px;text-align:center;top:425.70px;line-height:14.8px;font-size:10.6px;color:#666;letter-spacing:-0.129px;text-indent:-0.129px;">18:00</div>
<div class="abs" style="left:1452.84px;top:421.40px;width:1px;height:5.0px;background:#d9dde6"></div>
<div class="t" style="left:1253.64px;width:400px;text-align:center;top:425.70px;line-height:14.8px;font-size:10.6px;color:#666;letter-spacing:-0.129px;text-indent:-0.129px;">21:00</div>
<div class="abs" style="left:1513.77px;top:421.40px;width:1px;height:5.0px;background:#d9dde6"></div>
<div class="t" style="right:32.90px;top:425.70px;line-height:14.8px;font-size:10.6px;color:#666;transform:scaleX(0.9626);transform-origin:right center;">7. Oct</div>
<div class="abs" style="left:1185.81px;top:376.60px;width:8px;height:44.50px;background:#e4bf58"></div>
<div class="abs" style="left:1206.12px;top:330.90px;width:8px;height:90.20px;background:#e4bf58"></div>
<div class="abs" style="left:1226.43px;top:322.50px;width:8px;height:98.60px;background:#e4bf58"></div>
<div class="abs" style="left:1246.74px;top:310.00px;width:8px;height:111.10px;background:#e4bf58"></div>
<div class="abs" style="left:1267.05px;top:390.70px;width:8px;height:30.40px;background:#e4bf58"></div>
<div class="t" style="left:1015.00px;width:400px;text-align:center;top:493.05px;line-height:17.9px;font-size:12.8px;color:#333;letter-spacing:-0.092px;text-indent:-0.092px;">Max Concurrency</div>
<div class="abs" style="left:950.5px;top:520.90px;width:575.2px;height:1px;background:#efefef"></div>
<div class="abs" style="left:950.5px;top:564.00px;width:575.2px;height:1px;background:#efefef"></div>
<div class="abs" style="left:950.5px;top:607.70px;width:575.2px;height:1px;background:#efefef"></div>
<div class="abs" style="left:950.5px;top:650.10px;width:575.2px;height:1px;background:#d9dde6"></div>
<div class="t" style="right:622.20px;top:514.50px;line-height:14.8px;font-size:10.6px;color:#666;transform:scaleX(0.8969);transform-origin:right center;">15</div>
<div class="t" style="right:622.20px;top:557.60px;line-height:14.8px;font-size:10.6px;color:#666;transform:scaleX(0.9584);transform-origin:right center;">10</div>
<div class="t" style="right:622.20px;top:601.30px;line-height:14.8px;font-size:10.6px;color:#666;">5</div>
<div class="t" style="right:622.20px;top:643.70px;line-height:14.8px;font-size:10.6px;color:#666;">0</div>
<div class="t" style="left:714.00px;width:400px;text-align:center;top:578.80px;line-height:14px;font-size:11px;color:#666;letter-spacing:-0.046px;transform:rotate(-90deg);text-indent:-0.046px;">Connections</div>
<div class="abs" style="left:959.50px;top:650.60px;width:1px;height:5.0px;background:#d9dde6"></div>
<div class="t" style="left:760.30px;width:400px;text-align:center;top:654.90px;line-height:14.8px;font-size:10.6px;color:#666;letter-spacing:-0.129px;text-indent:-0.129px;">21:00</div>
<div class="abs" style="left:1021.09px;top:650.60px;width:1px;height:5.0px;background:#d9dde6"></div>
<div class="t" style="left:821.89px;width:400px;text-align:center;top:654.90px;line-height:14.8px;font-size:10.6px;color:#666;transform:scaleX(0.9626);transform-origin:center center;">6. Oct</div>
<div class="abs" style="left:1082.68px;top:650.60px;width:1px;height:5.0px;background:#d9dde6"></div>
<div class="t" style="left:883.48px;width:400px;text-align:center;top:654.90px;line-height:14.8px;font-size:10.6px;color:#666;letter-spacing:-0.129px;text-indent:-0.129px;">03:00</div>
<div class="abs" style="left:1144.27px;top:650.60px;width:1px;height:5.0px;background:#d9dde6"></div>
<div class="t" style="left:945.07px;width:400px;text-align:center;top:654.90px;line-height:14.8px;font-size:10.6px;color:#666;letter-spacing:-0.129px;text-indent:-0.129px;">06:00</div>
<div class="abs" style="left:1205.86px;top:650.60px;width:1px;height:5.0px;background:#d9dde6"></div>
<div class="t" style="left:1006.66px;width:400px;text-align:center;top:654.90px;line-height:14.8px;font-size:10.6px;color:#666;letter-spacing:-0.129px;text-indent:-0.129px;">09:00</div>
<div class="abs" style="left:1267.45px;top:650.60px;width:1px;height:5.0px;background:#d9dde6"></div>
<div class="t" style="left:1068.25px;width:400px;text-align:center;top:654.90px;line-height:14.8px;font-size:10.6px;color:#666;letter-spacing:-0.129px;text-indent:-0.129px;">12:00</div>
<div class="abs" style="left:1329.04px;top:650.60px;width:1px;height:5.0px;background:#d9dde6"></div>
<div class="t" style="left:1129.84px;width:400px;text-align:center;top:654.90px;line-height:14.8px;font-size:10.6px;color:#666;letter-spacing:-0.129px;text-indent:-0.129px;">15:00</div>
<div class="abs" style="left:1390.63px;top:650.60px;width:1px;height:5.0px;background:#d9dde6"></div>
<div class="t" style="left:1191.43px;width:400px;text-align:center;top:654.90px;line-height:14.8px;font-size:10.6px;color:#666;letter-spacing:-0.129px;text-indent:-0.129px;">18:00</div>
<div class="abs" style="left:1452.22px;top:650.60px;width:1px;height:5.0px;background:#d9dde6"></div>
<div class="t" style="left:1253.02px;width:400px;text-align:center;top:654.90px;line-height:14.8px;font-size:10.6px;color:#666;letter-spacing:-0.129px;text-indent:-0.129px;">21:00</div>
<div class="abs" style="left:1513.81px;top:650.60px;width:1px;height:5.0px;background:#d9dde6"></div>
<div class="t" style="right:34.00px;top:654.90px;line-height:14.8px;font-size:10.6px;color:#666;transform:scaleX(0.9626);transform-origin:right center;">7. Oct</div>
<div class="abs" style="left:1182.33px;top:582.80px;width:8px;height:67.50px;background:#e4bf58"></div>
<div class="abs" style="left:1202.86px;top:574.00px;width:8px;height:76.30px;background:#e4bf58"></div>
<div class="abs" style="left:1223.39px;top:574.00px;width:8px;height:76.30px;background:#e4bf58"></div>
<div class="abs" style="left:1243.92px;top:547.80px;width:8px;height:102.50px;background:#e4bf58"></div>
<div class="abs" style="left:1264.45px;top:574.00px;width:8px;height:76.30px;background:#e4bf58"></div>
<div class="t" style="left:338.50px;width:400px;text-align:center;top:493.05px;line-height:17.9px;font-size:12.8px;color:#333;transform:scaleX(0.9663);transform-origin:center center;">Session Size</div>
<div class="abs" style="left:280px;top:520.50px;width:568.6px;height:1px;background:#efefef"></div>
<div class="abs" style="left:280px;top:577.80px;width:568.6px;height:1px;background:#efefef"></div>
<div class="abs" style="left:280px;top:634.70px;width:568.6px;height:1px;background:#d9dde6"></div>
<div class="t" style="right:1292.80px;top:514.20px;line-height:14.8px;font-size:10.6px;color:#666;transform:scaleX(0.9847);transform-origin:right center;">100</div>
<div class="t" style="right:1292.80px;top:571.50px;line-height:14.8px;font-size:10.6px;color:#666;transform:scaleX(0.9672);transform-origin:right center;">50</div>
<div class="t" style="right:1292.80px;top:628.40px;line-height:14.8px;font-size:10.6px;color:#666;">0</div>
<div class="t" style="left:37.70px;width:400px;text-align:center;top:570.70px;line-height:14px;font-size:11px;color:#666;letter-spacing:-0.138px;transform:rotate(-90deg);text-indent:-0.138px;">Conferences</div>
<div class="abs" style="left:427.600px;top:526.600px;width:272.400px;height:108.300px;background:#e4bf58"></div>
<div class="t" style="left:364.00px;width:400px;text-align:center;top:639.50px;line-height:14.8px;font-size:10.6px;color:#666;transform:scaleX(0.8978);transform-origin:center center;">2–4</div>
<div class="t" style="left:364.00px;width:400px;text-align:center;top:655.10px;line-height:15.4px;font-size:11px;color:#666;transform:scaleX(0.9719);transform-origin:center center;">Users</div>
<div class="abs" style="left:893.600px;top:489px;width:94.800px;height:26.500px;border-radius:3px;background:#3f76bd;box-shadow:0 1px 2px rgba(0,0,0,.35)"></div>
<div class="t" style="left:741.00px;width:400px;text-align:center;top:494.75px;line-height:15.1px;font-size:10.8px;color:#fff;-webkit-text-stroke:0.4px #fff;transform:scaleX(0.9742);transform-origin:center center;">CONNECTIONS</div>
<div class="abs" style="left:1463.200px;top:489px;width:70.400px;height:26.500px;border-radius:3px;background:#fff;border:1px solid #4a4a4a"></div>
<div class="t" style="left:1298.40px;width:400px;text-align:center;top:494.75px;line-height:15.1px;font-size:10.8px;color:#222;-webkit-text-stroke:0.4px #222;transform:scaleX(0.9549);transform-origin:center center;">SESSIONS</div>
<div class="t" style="left:227.3px;top:725.85px;line-height:17.9px;font-size:12.8px;color:#2a2a2a;letter-spacing:0.529px;">Custom Alerts</div>
<div class="t" style="left:221px;top:778.45px;line-height:13.7px;font-size:9.8px;color:#707070;letter-spacing:0.017px;">Type</div>
<div class="t" style="left:269.3px;top:778.45px;line-height:13.7px;font-size:9.8px;color:#707070;letter-spacing:0.466px;">Metric</div>
<div class="t" style="right:695.70px;top:778.45px;line-height:13.7px;font-size:9.8px;color:#707070;letter-spacing:0.176px;margin-right:-0.176px;">Sessions</div>
<div class="t" style="right:561.70px;top:778.45px;line-height:13.7px;font-size:9.8px;color:#707070;letter-spacing:0.027px;margin-right:-0.027px;">Peers</div>
<div class="t" style="left:1024.3px;top:778.45px;line-height:13.7px;font-size:9.8px;color:#707070;letter-spacing:0.256px;">Message</div>
<div class="abs" style="left:207px;top:807.90px;width:1340.0px;height:1px;background:#e2e2e2"></div>
<div class="abs" style="left:207px;top:864.50px;width:1340.0px;height:1px;background:#e2e2e2"></div>
<div class="abs" style="left:220.200px;top:830.500px;width:11px;height:11px;border-radius:6px;background:radial-gradient(circle at 40% 35%,#e0564c,#b92f28 70%)"></div>
<div class="t" style="left:269.3px;top:829.30px;line-height:14.8px;font-size:10.6px;color:#222;letter-spacing:0.224px;">Video Jitter (Outgoing) &gt; 20</div>
<div class="t" style="right:695.70px;top:829.30px;line-height:14.8px;font-size:10.6px;color:#222;letter-spacing:-0.097px;margin-right:0.097px;">16</div>
<div class="t" style="right:561.70px;top:829.30px;line-height:14.8px;font-size:10.6px;color:#222;letter-spacing:-0.097px;margin-right:0.097px;">28</div>
<div id="vtrack"></div><div id="vthumb"></div>
</div></body></html>
